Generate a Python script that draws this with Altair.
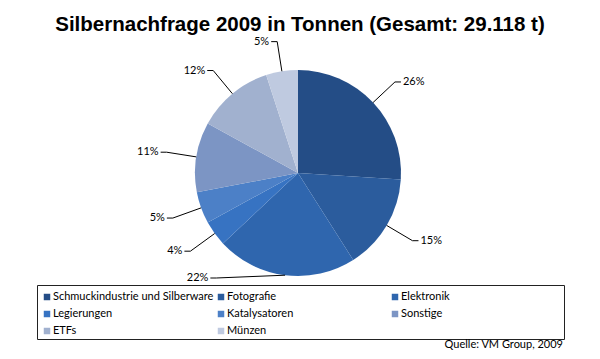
import altair as alt
import pandas as pd

categories = ["Schmuckindustrie und Silberware", "Fotografie", "Elektronik",
              "Legierungen", "Katalysatoren", "Sonstige", "ETFs", "Münzen"]
shares = [26, 15, 22, 4, 5, 11, 12, 5]
colors = ["#244D86", "#2B5C9D", "#2F66AE", "#3773C2", "#4C80C7",
          "#7C95C4", "#A1B1CF", "#BFCAE0"]
title_text = "Silbernachfrage 2009 in Tonnen (Gesamt: 29.118 t)"
source_text = "Quelle: VM Group, 2009"

W, H = 584, 343
CX, CY = 290, 165
R = 103
RL = 133
YMAX = 270
LX0, LY0, LCOL, LROW = 39, 289, 174, 17

df = pd.DataFrame({"cat": categories, "share": shares,
                   "idx": list(range(len(categories)))})
base = alt.Chart(df)
color = alt.Color("cat:N", scale=alt.Scale(domain=categories, range=colors), legend=None)

pie = base.mark_arc(outerRadius=R).encode(
    theta=alt.Theta("share:Q", stack=True),
    color=color,
    order=alt.Order("idx:Q", sort="ascending"),
    x=alt.value(CX), y=alt.value(CY),
)

geo = base.transform_joinaggregate(total="sum(share)").transform_window(
    cum="sum(share)", sort=[alt.SortField("idx", order="ascending")], frame=[None, 0]
).transform_calculate(
    mid="(datum.cum - datum.share / 2) / datum.total * 2 * PI"
).transform_calculate(
    side="sin(datum.mid) < 0 ? -1 : 1",
    ex=f"{CX} + {R} * sin(datum.mid)",
    ey=f"{CY} - {R} * cos(datum.mid)",
    ly=f"min({CY} - {RL} * cos(datum.mid), {YMAX})",
).transform_calculate(
    lx=f"{CX} + datum.side * sqrt({RL}*{RL} - pow(datum.ly - {CY}, 2))",
).transform_calculate(
    tx="datum.lx + datum.side * 6",
    txt="format(datum.share, 'd') + '%'",
)

rule1 = geo.mark_rule(color="black", strokeWidth=1).encode(
    x=alt.X("ex:Q", scale=None), y=alt.Y("ey:Q", scale=None),
    x2="lx:Q", y2="ly:Q")
rule2 = geo.mark_rule(color="black", strokeWidth=1).encode(
    x=alt.X("lx:Q", scale=None), y=alt.Y("ly:Q", scale=None),
    x2="tx:Q", y2="ly:Q")
lab_r = geo.transform_filter("datum.side > 0").mark_text(
    align="left", baseline="middle", dx=2, font="Lato", fontSize=11, color="black"
).encode(x=alt.X("tx:Q", scale=None), y=alt.Y("ly:Q", scale=None), text="txt:N")
lab_l = geo.transform_filter("datum.side < 0").mark_text(
    align="right", baseline="middle", dx=-2, font="Lato", fontSize=11, color="black"
).encode(x=alt.X("tx:Q", scale=None), y=alt.Y("ly:Q", scale=None), text="txt:N")

leg = base.transform_calculate(
    lgx=f"{LX0} + (datum.idx % 3) * {LCOL}",
    lgy=f"{LY0} + floor(datum.idx / 3) * {LROW}",
)
leg_sym = leg.mark_square(size=42, opacity=1).encode(
    x=alt.X("lgx:Q", scale=None), y=alt.Y("lgy:Q", scale=None), color=color)
leg_txt = leg.mark_text(align="left", baseline="middle", dx=6, font="Lato",
                        fontSize=11, color="black").encode(
    x=alt.X("lgx:Q", scale=None), y=alt.Y("lgy:Q", scale=None), text="cat:N")

one = alt.Chart(pd.DataFrame({"t": [title_text], "s": [source_text]}))
box = one.mark_rect(fill=None, stroke="#222", strokeWidth=1).encode(
    x=alt.value(29.5), x2=alt.value(556.5), y=alt.value(277.5), y2=alt.value(331.5))
title = one.mark_text(font="Liberation Sans", fontSize=20.5, fontWeight="bold",
                      align="center", baseline="alphabetic", color="black").encode(
    x=alt.value(292), y=alt.value(23), text="t:N")
source = one.mark_text(font="Lato", fontSize=11, align="right", baseline="middle",
                       color="black").encode(
    x=alt.value(555), y=alt.value(337), text="s:N")

chart = alt.layer(pie, rule1, rule2, lab_r, lab_l, box, leg_sym, leg_txt, title, source).properties(
    width=W, height=H, autosize=alt.AutoSizeParams(type="none"), padding=0,
    background="white",
).configure_view(stroke=None)

chart.save("out.html", embed_options={"renderer": "svg", "actions": False})
